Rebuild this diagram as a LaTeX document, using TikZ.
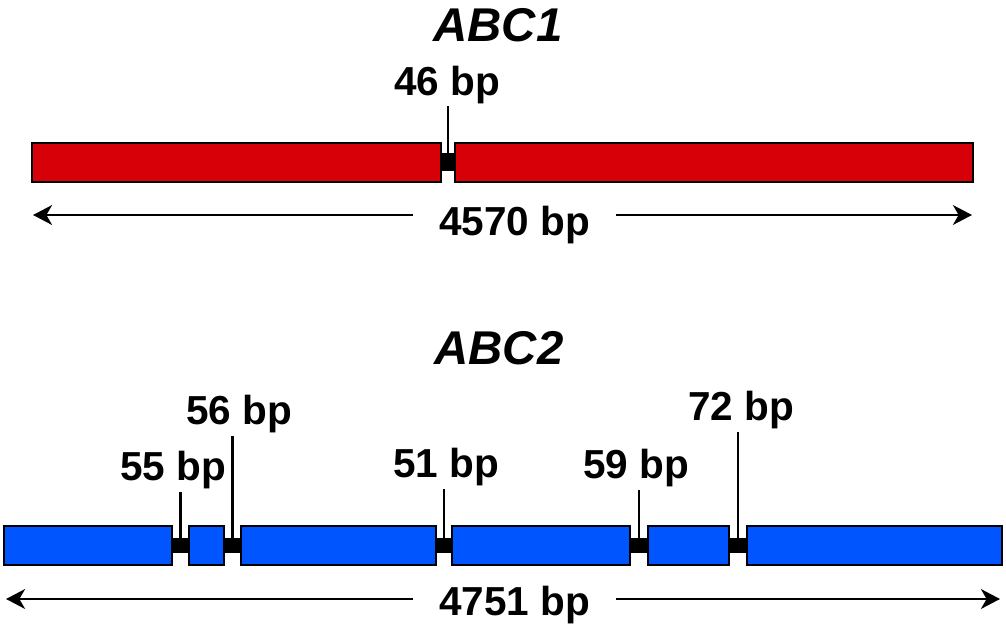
\documentclass[tikz,border=0pt]{standalone}
\usepackage{fontspec}
\setmainfont{Liberation Sans}
\usetikzlibrary{arrows.meta}
\definecolor{exred}{RGB}{215,0,8}
\definecolor{exblue}{RGB}{0,85,255}

\begin{document}
\begin{tikzpicture}[x=0.025cm, y=-0.025cm]
		\tikzset{ex/.style={rectangle, draw=black, line width=1.7pt, inner sep=0, outer sep=0, minimum height=0.975cm},
			jn/.style={rectangle, fill=black, inner sep=0, outer sep=0},
			lbl/.style={anchor=base, inner sep=2pt, font=\fontsize{28.8}{32}\selectfont\bfseries},
			ttl/.style={anchor=base, font=\fontsize{33.7}{36}\selectfont\bfseries\itshape},
			tk/.style={line width=2pt},
			arr/.style={-{Stealth[length=13.5pt, width=14pt, inset=4pt]}, line width=2.1pt}};

		\useasboundingbox (0,0) rectangle (1006,631);

		% ABC1
		\node[ttl] (t1) at (498, 41) {ABC1};
		\node[ex, fill=exred, minimum width=10.225cm] (e1a) at (236.5, 162.5) {};
		\node[jn, minimum width=0.35cm, minimum height=0.45cm] (j1) at (448, 162) {};
		\node[ex, fill=exred, minimum width=12.95cm] (e1b) at (714, 162.5) {};
		\node[lbl] (l46) at (447, 95) {46 bp};
		\draw[tk] (j1.north) to (j1.north |- l46.south);

		\node[lbl, inner xsep=0.65cm] (len1) at (514.5, 235) {4570 bp};
		\coordinate (len1l) at (33, 215);
		\coordinate (len1r) at (972, 215);
		\draw[arr] (len1.west |- len1l) to (len1l);
		\draw[arr] (len1.east |- len1r) to (len1r);

		% ABC2
		\node[ttl] (t2) at (499, 364) {ABC2};
		\node[ex, fill=exblue, minimum width=4.2cm] (e2a) at (88, 545.5) {};
		\node[jn, minimum width=0.425cm, minimum height=0.38cm] (j2a) at (180.5, 545.5) {};
		\node[ex, fill=exblue, minimum width=0.875cm] (e2b) at (206.5, 545.5) {};
		\node[jn, minimum width=0.425cm, minimum height=0.38cm] (j2b) at (232.5, 545.5) {};
		\node[ex, fill=exblue, minimum width=4.875cm] (e2c) at (338.5, 545.5) {};
		\node[jn, minimum width=0.4cm, minimum height=0.38cm] (j2c) at (444, 545.5) {};
		\node[ex, fill=exblue, minimum width=4.45cm] (e2d) at (541, 545.5) {};
		\node[jn, minimum width=0.45cm, minimum height=0.38cm] (j2d) at (639, 545.5) {};
		\node[ex, fill=exblue, minimum width=2.025cm] (e2e) at (688.5, 545.5) {};
		\node[jn, minimum width=0.45cm, minimum height=0.38cm] (j2e) at (738, 545.5) {};
		\node[ex, fill=exblue, minimum width=6.375cm] (e2f) at (874.5, 545.5) {};

		\node[lbl] (l55) at (173, 480) {55 bp};
		\node[lbl] (l56) at (239, 424) {56 bp};
		\node[lbl] (l51) at (446, 477) {51 bp};
		\node[lbl] (l59) at (636, 478) {59 bp};
		\node[lbl] (l72) at (741, 420) {72 bp};

		\draw[tk] (j2a.north) to (j2a.north |- l55.south);
		\draw[tk] (j2b.north) to (j2b.north |- l56.south);
		\draw[tk] (j2c.north) to (j2c.north |- l51.south);
		\draw[tk] (j2d.north) to (j2d.north |- l59.south);
		\draw[tk] (j2e.north) to (j2e.north |- l72.south);

		\node[lbl, inner xsep=0.65cm] (len2) at (514.5, 615) {4751 bp};
		\coordinate (len2l) at (6, 599);
		\coordinate (len2r) at (1000, 599);
		\draw[arr] (len2.west |- len2l) to (len2l);
		\draw[arr] (len2.east |- len2r) to (len2r);

	\end{tikzpicture}
\end{document}
